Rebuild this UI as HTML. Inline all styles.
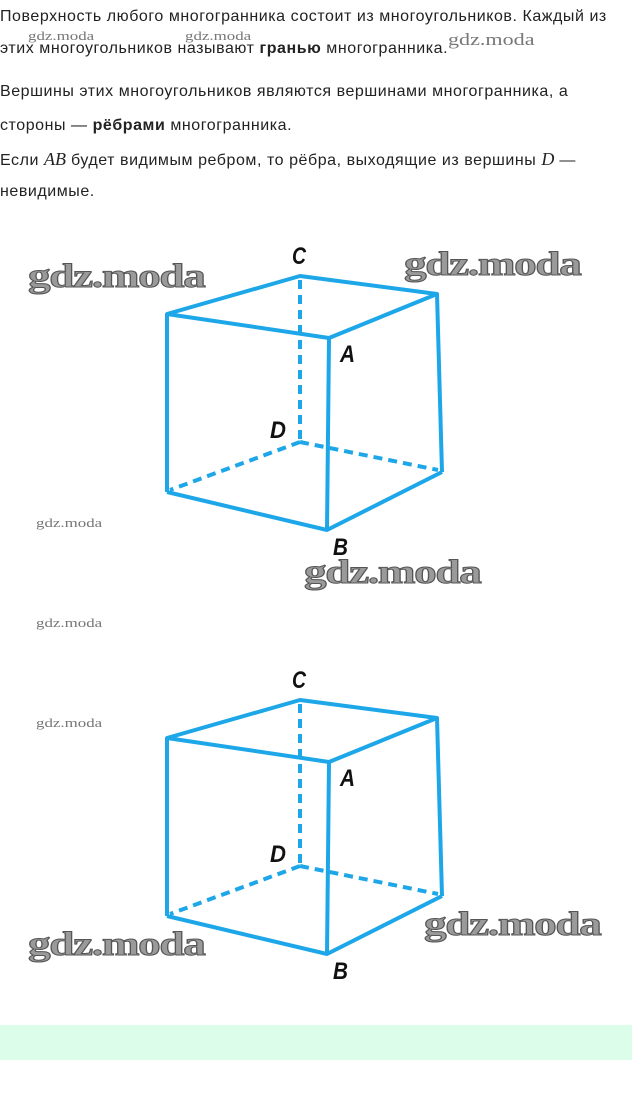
<!DOCTYPE html>
<html><head><meta charset="utf-8"><style>
html,body{margin:0;padding:0;background:#fff;width:632px;height:1095px;overflow:hidden;position:relative}
.t{position:absolute;left:0;font-family:"Liberation Sans",sans-serif;font-size:16px;letter-spacing:0.55px;color:#222;white-space:nowrap}
.m{font-family:"Liberation Serif",serif;font-style:italic;letter-spacing:0}
.w{position:absolute;font-family:"Liberation Serif",serif;font-weight:bold;color:#9a9a9a;-webkit-text-stroke:1px #555;white-space:nowrap;letter-spacing:-1px;transform:scaleX(1.33);transform-origin:0 0}
.ws{position:absolute;font-family:"Liberation Serif",serif;font-size:13px;color:#777;white-space:nowrap;transform:scaleX(1.3);transform-origin:0 0}
.band{position:absolute;left:0;top:1025px;width:632px;height:35px;background:#dcfdea}
</style></head><body>
<div class="t" style="top:8px">Поверхность любого многогранника состоит из многоугольников. Каждый из</div>
<div class="t" style="top:40px">этих многоугольников называют <b>гранью</b> многогранника.</div>
<div class="ws" style="left:28px;top:28px">gdz.moda</div>
<div class="ws" style="left:185px;top:28px">gdz.moda</div>
<div class="ws" style="left:448px;top:30px;font-size:17px">gdz.moda</div>
<div class="t" style="top:83px">Вершины этих многоугольников являются вершинами многогранника, а</div>
<div class="t" style="top:117px">стороны — <b>рёбрами</b> многогранника.</div>
<div class="t" style="top:149px">Если <span class="m" style="font-size:18px">AB</span> будет видимым ребром, то рёбра, выходящие из вершины <span class="m" style="font-size:18px">D</span> —</div>
<div class="t" style="top:183px">невидимые.</div>

<svg width="632" height="1095" style="position:absolute;left:0;top:0" xmlns="http://www.w3.org/2000/svg">
<defs>
<g id="cube" fill="none" stroke="#1ea7e8" stroke-width="4" stroke-linejoin="round">
<polygon points="167,314 300,276 437,294 329,338"/>
<line x1="167" y1="314" x2="167" y2="492"/>
<line x1="329" y1="338" x2="327" y2="530"/>
<line x1="437" y1="294" x2="442" y2="472"/>
<polyline points="167,492 327,530 442,472"/>
<g stroke-dasharray="9,6">
<line x1="300" y1="280" x2="300" y2="442"/>
<line x1="300" y1="442" x2="170" y2="490"/>
<line x1="300" y1="442" x2="438" y2="470"/>
</g>
<g stroke="none" fill="#111" font-family="Liberation Sans,sans-serif" font-style="italic" font-weight="bold" font-size="24">
<text x="292" y="264" textLength="14" lengthAdjust="spacingAndGlyphs">C</text>
<text x="340" y="362" textLength="15" lengthAdjust="spacingAndGlyphs">A</text>
<text x="270" y="438" textLength="16" lengthAdjust="spacingAndGlyphs">D</text>
<text x="333" y="555" textLength="15" lengthAdjust="spacingAndGlyphs">B</text>
</g>
</g>
</defs>
<use href="#cube"/>
<use href="#cube" transform="translate(0,424)"/>
</svg>

<div class="w" style="left:28px;top:258px;font-size:34px">gdz.moda</div>
<div class="w" style="left:404px;top:246px;font-size:34px">gdz.moda</div>
<div class="ws" style="left:36px;top:515px">gdz.moda</div>
<div class="w" style="left:304px;top:554px;font-size:34px">gdz.moda</div>
<div class="ws" style="left:36px;top:615px">gdz.moda</div>
<div class="ws" style="left:36px;top:715px">gdz.moda</div>
<div class="w" style="left:28px;top:926px;font-size:34px">gdz.moda</div>
<div class="w" style="left:424px;top:906px;font-size:34px">gdz.moda</div>
<div class="band"></div>
</body></html>
